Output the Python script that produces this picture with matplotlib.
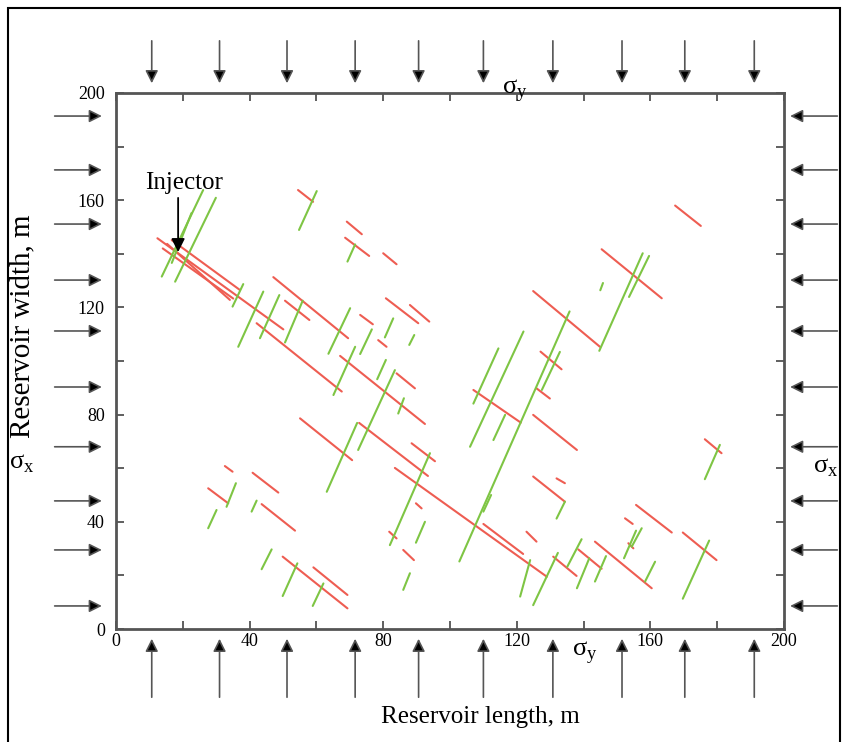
import matplotlib
matplotlib.use('Agg')
import matplotlib.pyplot as plt
import matplotlib.patches as patches

plt.rcParams['font.family'] = ['Liberation Serif', 'DejaVu Serif']
plt.rcParams['mathtext.fontset'] = 'custom'
plt.rcParams['mathtext.rm'] = 'Liberation Serif'

# Fractures parallel to sigma_x direction (red) - start / end points in metres
red_x0 = [12.4, 14.0, 16.7, 15.3, 54.5, 69.1, 68.6, 80.0, 167.4, 145.4, 124.9, 127.1,
          124.9, 176.3, 80.8, 88.0, 73.1, 78.5, 47.1, 67.1, 42.1, 84.0, 50.6, 55.1,
          88.5, 72.8, 83.5, 110.0, 124.9, 89.8, 81.8, 86.0, 122.9, 32.6, 27.6, 40.9,
          43.6, 49.9, 59.1, 131.9, 155.7, 152.4, 153.4, 169.7, 143.4, 138.4, 130.9,
          107.0, 125.9]
red_y0 = [145.8, 142.0, 145.1, 143.7, 163.8, 152.0, 146.0, 140.2, 158.0, 141.7, 126.1, 103.5,
          79.9, 70.8, 123.4, 120.9, 117.2, 107.8, 131.3, 101.9, 114.1, 95.4, 122.5, 78.6,
          69.3, 76.9, 60.1, 39.2, 56.9, 46.9, 36.3, 29.5, 36.3, 60.8, 52.5, 58.3,
          46.6, 27.0, 23.0, 56.2, 46.3, 41.3, 32.0, 36.0, 32.6, 29.7, 27.0,
          89.2, 89.8]
red_x1 = [50.1, 35.1, 37.1, 34.1, 59.0, 73.6, 75.8, 84.0, 175.1, 163.4, 144.9, 133.4,
          138.0, 181.3, 90.5, 93.8, 76.9, 81.0, 69.5, 92.5, 67.6, 89.5, 57.9, 70.7,
          95.5, 93.4, 129.0, 121.9, 134.4, 91.5, 84.0, 89.2, 125.9, 34.9, 33.6, 48.6,
          53.6, 69.3, 69.3, 134.4, 166.4, 154.7, 154.9, 179.8, 160.4, 145.4, 137.9,
          121.2, 129.9]
red_y1 = [111.8, 123.3, 126.5, 122.8, 159.4, 147.3, 139.2, 136.1, 150.4, 123.4, 105.3, 96.9,
          66.8, 65.6, 114.1, 114.7, 113.7, 105.3, 108.5, 76.5, 88.6, 89.8, 115.3, 63.0,
          62.6, 57.1, 19.5, 28.0, 47.5, 45.0, 33.8, 25.7, 32.6, 58.7, 46.9, 50.9,
          36.7, 7.7, 12.7, 54.4, 36.0, 39.2, 30.1, 25.7, 15.2, 22.5, 19.8,
          77.0, 86.0]

# Fractures parallel to sigma_y direction (green)
green_x0 = [13.7, 17.7, 16.7, 54.8, 69.3, 144.7, 153.6, 145.0, 102.8, 127.5, 176.3, 63.6,
            80.5, 73.1, 87.8, 65.1, 78.2, 72.5, 63.1, 84.5, 82.0, 89.8, 86.0, 110.0,
            121.0, 124.9, 34.9, 36.6, 43.1, 50.6, 33.1, 27.6, 40.6, 43.6, 49.9, 58.9,
            131.9, 154.4, 152.1, 169.7, 158.4, 135.1, 138.0, 143.4, 107.0, 106.0, 113.0]
green_y0 = [131.5, 129.6, 136.6, 148.9, 137.1, 103.8, 123.9, 126.4, 25.2, 89.2, 55.9, 102.7,
            108.8, 102.6, 106.0, 87.3, 93.2, 66.8, 51.2, 80.4, 31.3, 32.2, 14.6, 43.8,
            12.1, 8.9, 120.3, 105.3, 108.5, 106.9, 45.6, 37.6, 43.8, 22.3, 12.3, 8.6,
            41.2, 30.7, 26.4, 11.3, 17.7, 23.2, 15.2, 17.7, 84.1, 68.0, 70.5]
green_x1 = [26.1, 29.9, 22.6, 60.1, 71.6, 157.7, 159.6, 145.8, 135.8, 132.9, 180.8, 70.1,
            83.0, 76.6, 89.3, 71.6, 80.8, 83.5, 72.2, 86.2, 94.0, 92.5, 88.0, 112.3,
            124.0, 132.3, 38.1, 44.1, 48.9, 55.9, 35.9, 30.1, 42.1, 46.6, 54.3, 62.1,
            134.4, 157.4, 155.7, 177.6, 161.4, 139.4, 141.7, 146.7, 114.5, 122.0, 116.5]
green_y1 = [163.8, 160.9, 155.2, 163.4, 143.5, 140.2, 139.2, 129.1, 118.5, 103.4, 68.7, 119.7,
            115.9, 111.8, 109.7, 105.3, 100.4, 96.6, 76.9, 86.1, 65.6, 40.0, 20.8, 50.0,
            25.7, 28.4, 128.7, 125.9, 124.6, 122.5, 54.4, 44.4, 47.9, 29.7, 24.5, 17.0,
            47.5, 37.6, 36.7, 33.0, 25.1, 33.5, 26.4, 27.2, 104.7, 111.0, 79.9]

# stress arrow positions
stress_x = [10.7, 31.0, 51.2, 71.6, 90.6, 110.0, 130.8, 151.5, 170.3, 191.1]
stress_y = [191.4, 171.3, 151.1, 130.2, 111.2, 90.3, 68.0, 47.8, 29.5, 8.6]

fig = plt.figure(figsize=(8.48, 7.42), dpi=100)
ax = fig.add_axes([116/848, 1-629/742, 668/848, 536/742])

for i in range(len(red_x0)):
    ax.plot([red_x0[i], red_x1[i]], [red_y0[i], red_y1[i]], color='#ee5d52', lw=1.5,
            solid_capstyle='round')
for i in range(len(green_x0)):
    ax.plot([green_x0[i], green_x1[i]], [green_y0[i], green_y1[i]], color='#7ec544', lw=1.5,
            solid_capstyle='round')

ax.set_xlim(0, 200)
ax.set_ylim(0, 200)
ax.set_xticks(range(0, 201, 40))
ax.set_yticks(range(0, 201, 40))
ax.set_xticks(range(20, 200, 40), minor=True)
ax.set_yticks(range(20, 200, 40), minor=True)
ax.tick_params(which='both', direction='in', top=True, right=True, length=6, width=1.2,
               color='#444')
ax.tick_params(axis='x', labelsize=13, pad=3)
ax.tick_params(axis='y', labelsize=13, pad=8)
for s in ax.spines.values():
    s.set_linewidth(2)
    s.set_color('#555')

# injector
ax.text(20.4, 166.4, 'Injector', ha='center', va='center', fontsize=18)
ax.annotate('', xy=(18.6, 139.6), xytext=(18.6, 161.9),
            arrowprops=dict(arrowstyle='-|>', color='black', lw=1.3, mutation_scale=20))

# stress arrows around the model
ap = dict(arrowstyle='-|>', facecolor='black', edgecolor='#555', lw=1.2, mutation_scale=19)
for x in stress_x:
    ax.annotate('', xy=(x, 202.6), xytext=(x, 220.5), arrowprops=ap, annotation_clip=False)
    ax.annotate('', xy=(x, -2.6), xytext=(x, -26.5), arrowprops=ap, annotation_clip=False)
for y in stress_y:
    ax.annotate('', xy=(-3.4, y), xytext=(-19.2, y), arrowprops=ap, annotation_clip=False)
    ax.annotate('', xy=(201.0, y), xytext=(216.8, y), arrowprops=ap, annotation_clip=False)

fig.text(515/848, 1-90/742, r'σ$_{\mathrm{y}}$', ha='center', va='center', fontsize=19)
fig.text(585/848, 1-652/742, r'σ$_{\mathrm{y}}$', ha='center', va='center', fontsize=19)
fig.text(22/848, 1-464/742, r'σ$_{\mathrm{x}}$', ha='center', va='center', fontsize=19)
fig.text(826/848, 1-468/742, r'σ$_{\mathrm{x}}$', ha='center', va='center', fontsize=19)

fig.text(480/848, 1-717/742, 'Reservoir length, m', ha='center', va='center', fontsize=18)
fig.text(22/848, 1-326/742, 'Reservoir width, m', ha='center', va='center', fontsize=21,
         rotation=90)

fig.add_artist(patches.Rectangle((8/848, -0.01), 832/848, 1-8/742+0.01,
                                 transform=fig.transFigure, fill=False, lw=1.5,
                                 ec='black'))

fig.savefig('out.png', dpi=100)
